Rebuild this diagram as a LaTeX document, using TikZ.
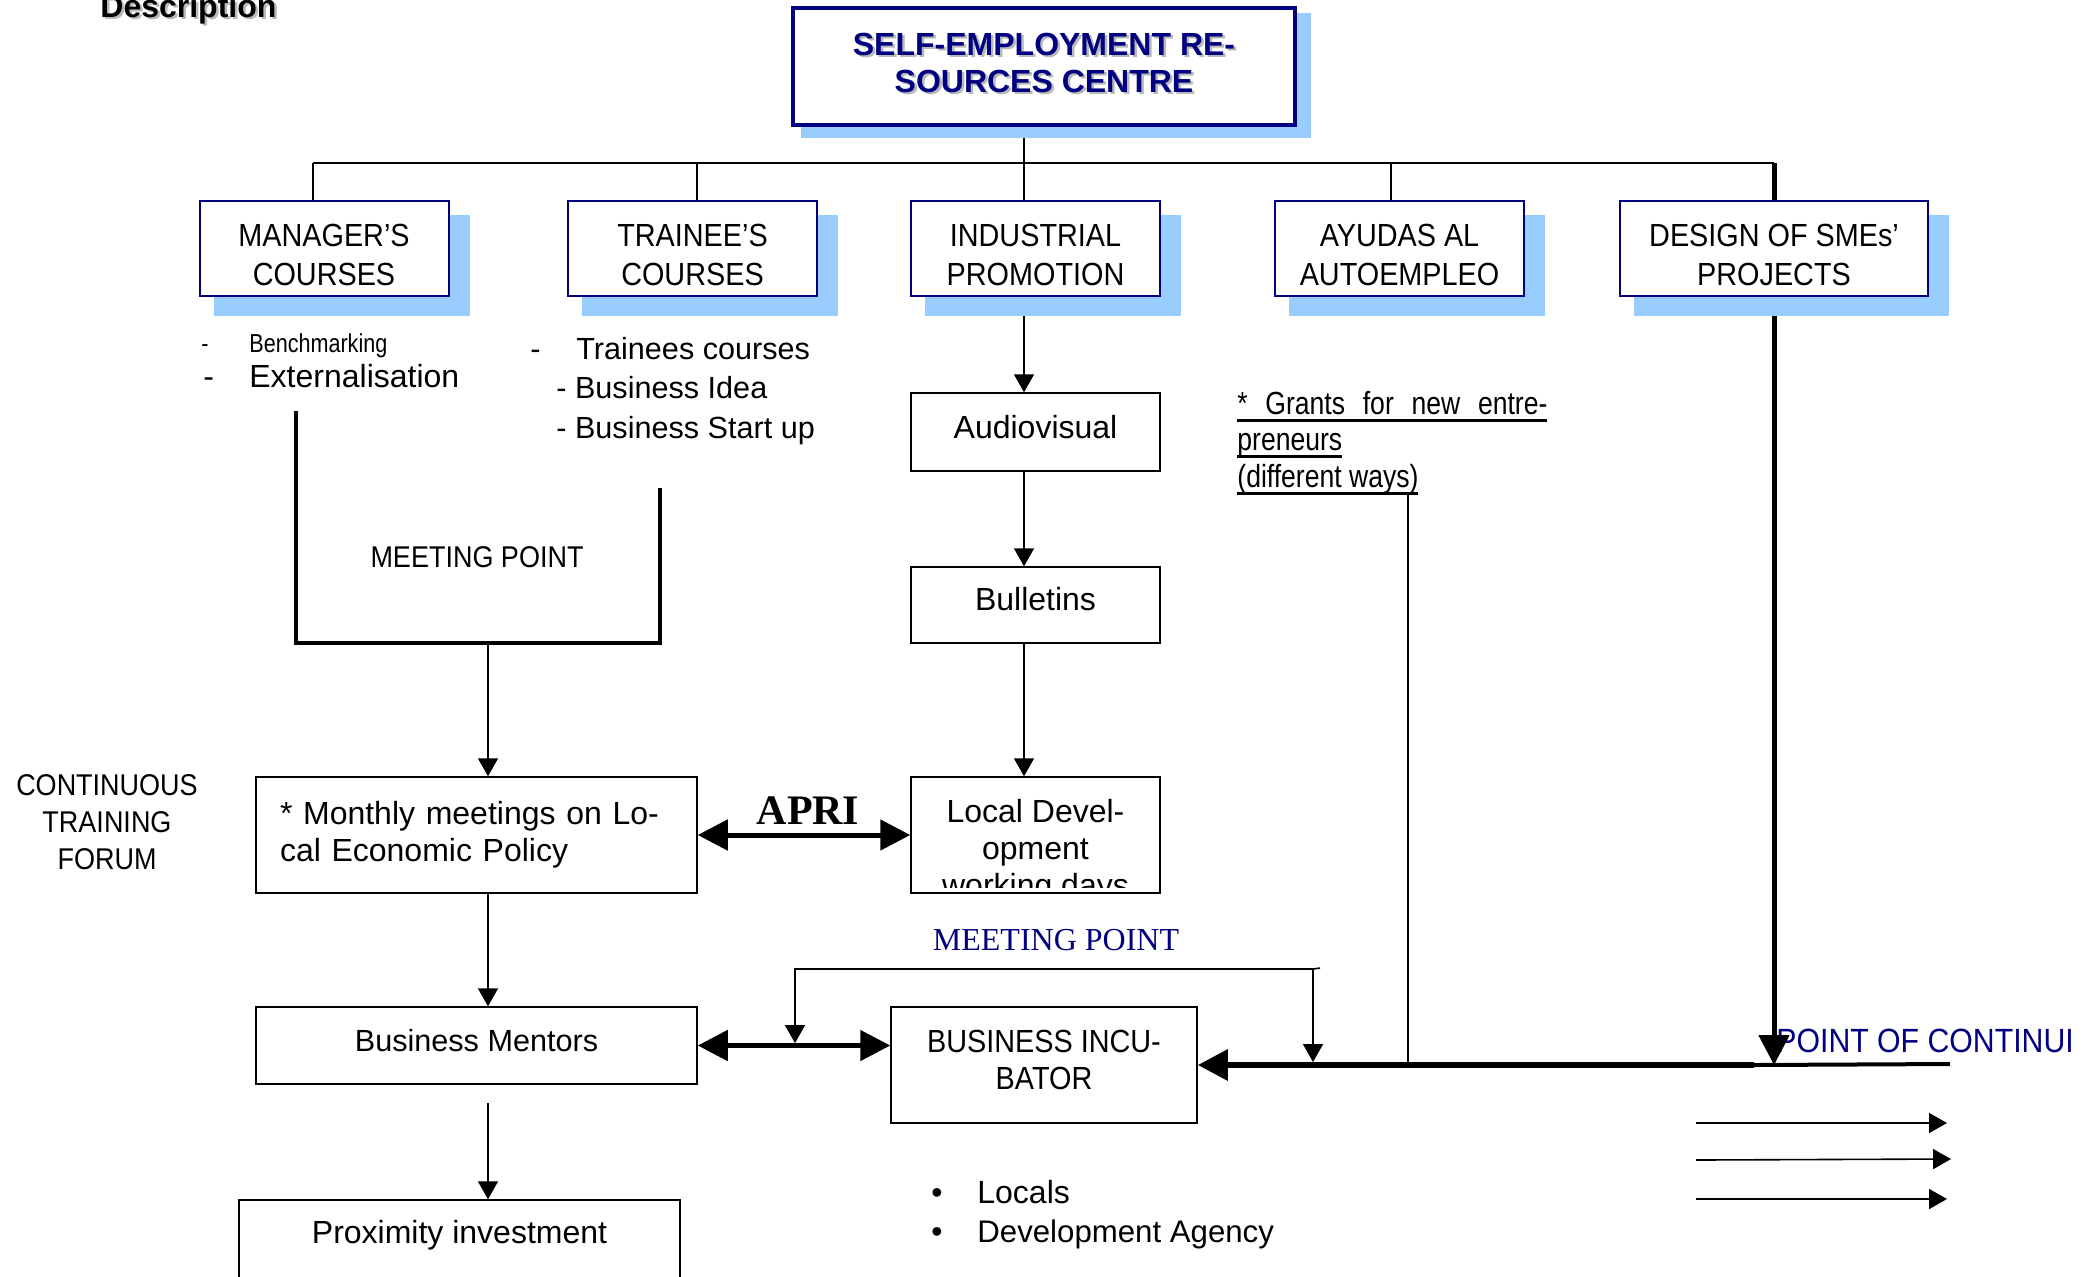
\documentclass[tikz,border=0pt]{standalone}
\usepackage{fontspec}
\setmainfont{Liberation Sans}
\newfontfamily\nfont[FakeStretch=0.9]{Liberation Sans}
\newfontfamily\gfont[FakeStretch=0.83]{Liberation Sans}
\newfontfamily\serfont{Liberation Serif}
\usetikzlibrary{arrows.meta,calc}
\definecolor{navy}{RGB}{0,0,128}
\definecolor{sblue}{RGB}{153,204,255}
\definecolor{tshadow}{RGB}{185,185,185}
\pgfdeclarelayer{back}\pgfdeclarelayer{mid}\pgfsetlayers{back,mid,main}
\newcommand\boxshadow[1]{\begin{pgfonlayer}{mid}\fill[sblue] ($(#1.north west)+(15,15)$) rectangle ($(#1.south east)+(20,19)$);\end{pgfonlayer}}
\newcommand\myul[1]{\setbox0=\hbox{#1}\rlap{\rule[-3.5pt]{\wd0}{1.2pt}}\box0}
\newcommand\lvlstrut{\rule{0pt}{17.5pt}}
\begin{document}
\begin{tikzpicture}[x=0.5pt,y=-0.5pt,
  lvl/.style={draw=navy, line width=1pt, fill=white, minimum width=124.5pt, minimum height=47.5pt, inner sep=0pt, align=center, font=\nfont\fontsize{16}{19.5}\selectfont},
  pbox/.style={draw=black, line width=0.75pt, fill=white, inner sep=0pt, minimum width=124.5pt, font=\fontsize{16}{18.5}\selectfont},
  txt/.style={inner sep=0pt, font=\fontsize{16}{18.5}\selectfont},
  conn/.style={line width=0.8pt},
  tarrow/.style={line width=0.8pt, -{Triangle[length=9pt,width=10pt]}},
  bigarrow/.style={line width=2.5pt, -{Triangle[length=15pt,width=15pt]}},
  bigdouble/.style={line width=2.5pt, {Triangle[length=15pt,width=15pt]}-{Triangle[length=15pt,width=15pt]}}
]
\useasboundingbox (0,0) rectangle (2091,1276);

% heading
\node[txt, anchor=base west, font=\bfseries\fontsize{16}{18}\selectfont, text=tshadow] at (102.5,19.5) {Description};
\node[txt, anchor=base west, font=\bfseries\fontsize{16}{18}\selectfont] (desc) at (100,17) {Description};

% top box
\node[draw=navy, line width=2pt, fill=white, minimum width=251pt, minimum height=58.5pt, inner sep=0pt] (top) at (1044,66.5) {};
\begin{pgfonlayer}{mid}\fill[sblue] ($(top.north west)+(10,7)$) rectangle ($(top.south east)+(14,11)$);\end{pgfonlayer}
\node[txt, align=center, font=\bfseries\fontsize{16}{18.5}\selectfont, text=tshadow] at (1046.5,65) {SELF-EMPLOYMENT RE-\\SOURCES CENTRE};
\node[txt, align=center, font=\bfseries\fontsize{16}{18.5}\selectfont, text=navy] (title) at (1044,62.5) {SELF-EMPLOYMENT RE-\\SOURCES CENTRE};

% second level
\node[lvl] (mgr) at (324,248.5) {\lvlstrut MANAGER’S\\COURSES};
\node[lvl] (trn) at (692.5,248.5) {\lvlstrut TRAINEE’S\\COURSES};
\node[lvl] (ind) at (1035.5,248.5) {\lvlstrut INDUSTRIAL\\PROMOTION};
\node[lvl] (ayu) at (1399.5,248.5) {\lvlstrut AYUDAS AL\\AUTOEMPLEO};
\node[lvl, minimum width=154pt] (des) at (1774,248.5) {\lvlstrut DESIGN OF SMEs’\\PROJECTS};
\boxshadow{mgr}\boxshadow{trn}\boxshadow{ind}\boxshadow{ayu}\boxshadow{des}

% lists
\node[txt, anchor=base west, font=\gfont\fontsize{13}{15}\selectfont] (bmd) at (201,352) {-};
\node[txt, anchor=base west, font=\gfont\fontsize{13}{15}\selectfont] (bm) at (249,352) {Benchmarking};
\node[txt, anchor=base west] (exd) at (203,387.5) {-};
\node[txt, anchor=base west] (ex) at (249,387.5) {Externalisation};
\node[txt, anchor=base west, font=\fontsize{15.3}{18}\selectfont] (tcd) at (530,359.5) {-};
\node[txt, anchor=base west, font=\fontsize{15.3}{18}\selectfont] (tc) at (576,359.5) {Trainees courses};
\node[txt, anchor=base west, font=\fontsize{15.3}{18}\selectfont] (bi) at (556,398.5) {- Business Idea};
\node[txt, anchor=base west, font=\fontsize{15.3}{18}\selectfont] (bs) at (556,438.5) {- Business Start up};

% grants
\node[txt, anchor=base west, font=\gfont\fontsize{16}{18.5}\selectfont] (g1) at (1237,414.5) {\myul{\makebox[155pt][s]{* Grants for new entre-}}};
\node[txt, anchor=base west, font=\gfont\fontsize{16}{18.5}\selectfont] (g2) at (1237,450.5) {\myul{preneurs}};
\node[txt, anchor=base west, font=\gfont\fontsize{16}{18.5}\selectfont] (g3) at (1237,487.5) {\myul{(different ways)}};

% middle column
\node[pbox, minimum height=39pt, text height=11.5pt, text depth=5pt] (aud) at (1035.5,432) {Audiovisual};
\node[pbox, minimum height=38pt, text height=11.5pt, text depth=6pt] (bul) at (1035.5,605) {Bulletins};
\node[pbox, minimum height=58pt] (ldev) at (1035.5,835) {};
\begin{scope}
\clip (912,778) rectangle (1159,887);
\node[txt, align=center] (ldevtxt) at (1035.5,851) {Local Devel-\\opment\\working days};
\end{scope}

% left column
\node[txt, align=center, font=\nfont\fontsize{15}{18.5}\selectfont] (mpt) at (477,557) {MEETING POINT};
\node[txt, align=center, font=\nfont\fontsize{15}{18.5}\selectfont] (ctf) at (107,822) {CONTINUOUS\\TRAINING\\FORUM};
\node[pbox, minimum width=220.5pt, minimum height=58pt, text width=196.5pt, inner xsep=12pt, align=left] (mon) at (476.5,835) {* Monthly meetings on Lo-\\cal Economic Policy};
\node[pbox, minimum width=220.5pt, minimum height=38.5pt, text height=11.5pt, text depth=5.5pt, font=\fontsize{15.3}{18}\selectfont] (men) at (476.5,1045.5) {Business Mentors};
\node[pbox, minimum width=220.5pt, minimum height=45pt, text height=11.5pt, text depth=13pt] (prox) at (459.5,1245) {Proximity investment};

% incubator
\node[pbox, minimum width=153pt, minimum height=58pt, align=center, font=\nfont\fontsize{16}{18.5}\selectfont] (inc) at (1044,1065) {BUSINESS INCU-\\BATOR\rule[-5pt]{0pt}{0pt}};

% labels
\node[txt, font=\serfont\bfseries\fontsize{21}{24}\selectfont] (apri) at (808,811) {APRI};
\node[txt, font=\serfont\fontsize{16}{18}\selectfont, text=navy] (mpb) at (1056,940) {MEETING POINT};
\node[txt, anchor=base west] (b1) at (931,1203.5) {•};
\node[txt, anchor=base west] (loc) at (977,1203.5) {Locals};
\node[txt, anchor=base west] (b2) at (931,1242.5) {•};
\node[txt, anchor=base west, font=\fontsize{15.6}{18}\selectfont] (dev) at (977,1242.5) {Development Agency};

% coordinates
\coordinate (bL) at (313,163);
\coordinate (bR) at (1774,163);
\coordinate (xI) at (1024,163);
\coordinate (xT) at (697,163);
\coordinate (xA) at (1391,163);
\coordinate (xL) at (488,643);
\coordinate (brA) at (296,411);
\coordinate (brB) at (660,488);
\coordinate (prA) at (488,1103);
\coordinate (mpA) at (795,969);
\coordinate (mpB) at (1313,969);
\coordinate (mpE) at (1320,968);
\coordinate (pc) at (1754,1065);
\coordinate (pcE) at (1950,1064);
\coordinate (gtop) at (1408,493);
\coordinate (r1a) at (1696,1123); \coordinate (r1b) at (1947,1123);
\coordinate (r2a) at (1696,1160); \coordinate (r2b) at (1951,1159);
\coordinate (r3a) at (1696,1199); \coordinate (r3b) at (1947,1199);

\begin{pgfonlayer}{back}
\node[txt, anchor=base west, font=\nfont\fontsize{16.8}{18}\selectfont, text=navy] (poc) at (1776,1052) {POINT OF CONTINUI};
\draw[conn] (top.south -| xI) -- (xI);
\draw[conn] (bL) -- (bR);
\draw[conn] (bL) -- (mgr.north -| bL);
\draw[conn] (xT) -- (trn.north -| xT);
\draw[conn] (xI) -- (ind.north -| xI);
\draw[conn] (xA) -- (ayu.north -| xA);
\draw[line width=2.5pt] (bR) -- (des.north);
\draw[tarrow] (ind.south -| xI) -- (aud.north -| xI);
\draw[tarrow] (aud.south -| xI) -- (bul.north -| xI);
\draw[tarrow] (bul.south -| xI) -- (ldev.north -| xI);
\draw[line width=2.25pt] (brA) |- (xL) -| (brB);
\draw[tarrow] (xL) -- (mon.north -| xL);
\draw[tarrow] (mon.south -| xL) -- (men.north -| xL);
\draw[tarrow] (prA) -- (prox.north -| prA);
\draw[bigdouble] (mon.east) -- (ldev.west);
\draw[bigdouble] (men.east) -- (men.east -| inc.west);
\draw[line width=0.8pt, {Triangle[length=9pt,width=10pt]}-{Triangle[length=9pt,width=10pt]}] ([yshift=1.2pt]mpA |- men.east) -- (mpA) -- (mpB) -- ([yshift=1.5pt]mpB |- pc);
\draw[conn] (mpB) -- (mpE);
\draw[conn] (gtop) -- (gtop |- pc);
\draw[line width=3pt, -{Triangle[length=15pt,width=15pt]}] (pc) -- (inc.east);
\draw[line width=2pt] (pc) -- (pcE);
\draw[bigarrow] (des.south) -- (des.south |- pc);
\draw[tarrow] (r1a) -- (r1b);
\draw[tarrow] (r2a) -- (r2b);
\draw[tarrow] (r3a) -- (r3b);
\end{pgfonlayer}
\end{tikzpicture}
\end{document}
